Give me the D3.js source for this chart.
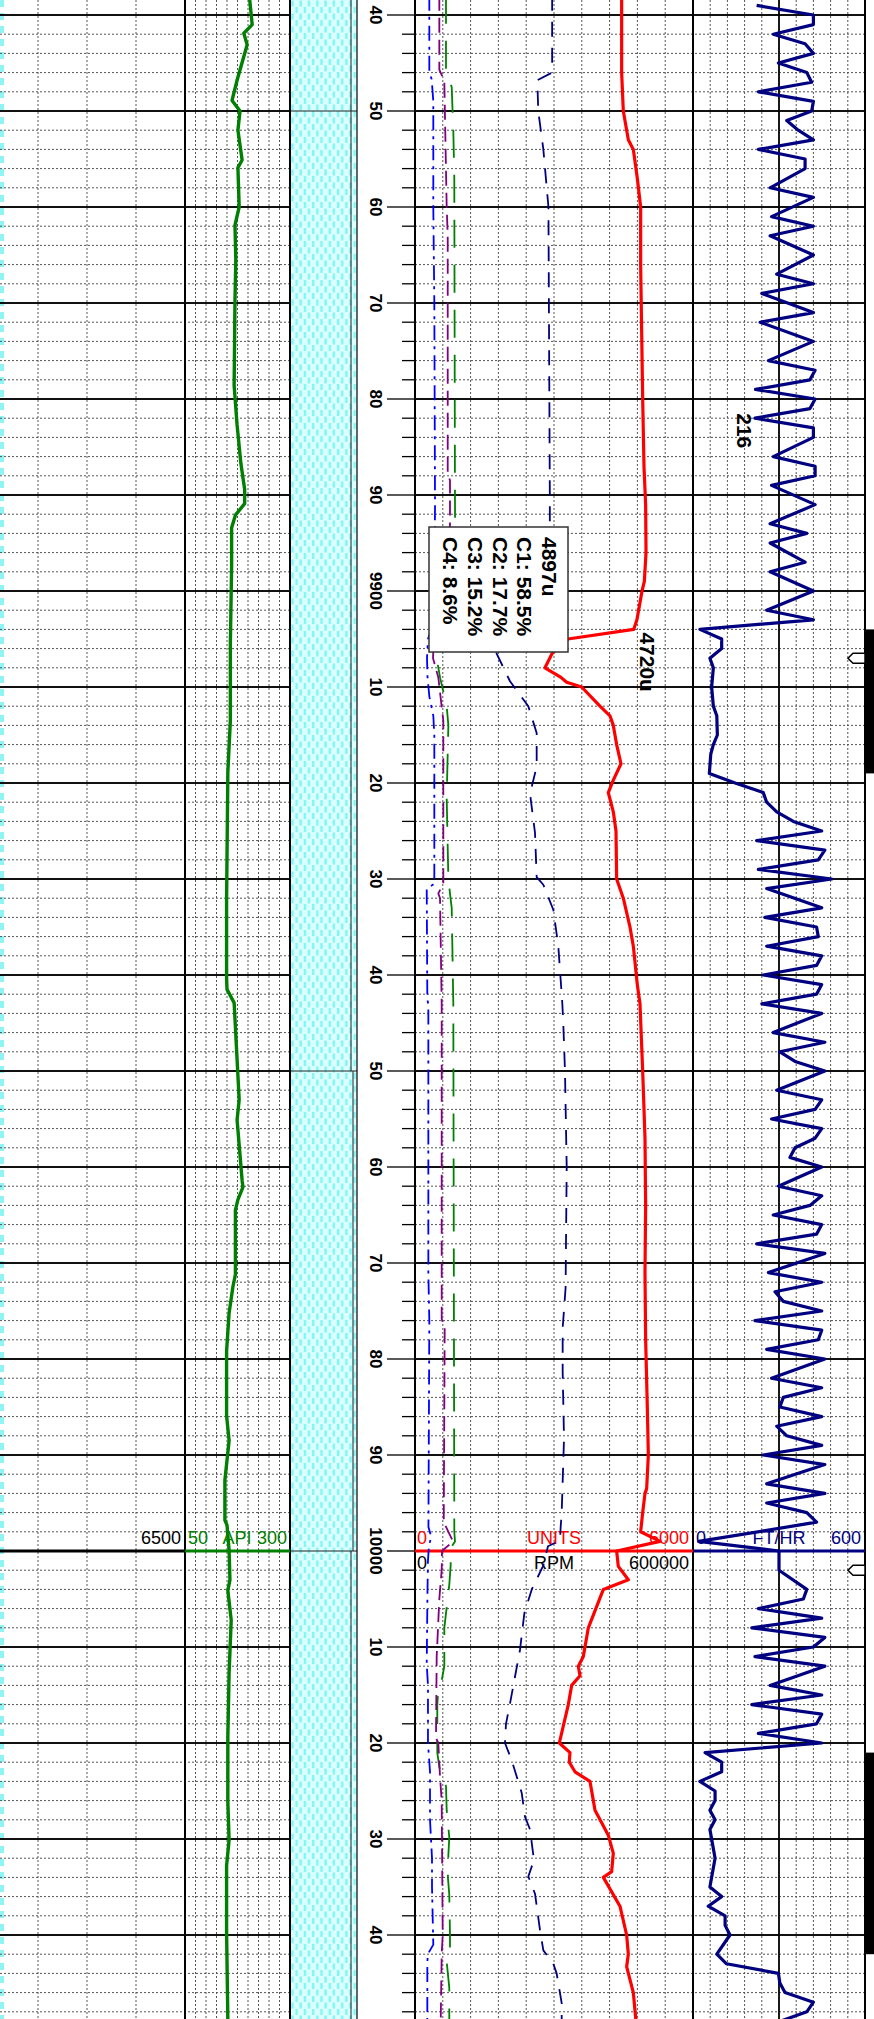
<!DOCTYPE html>
<html>
<head>
<meta charset="utf-8">
<script src="https://d3js.org/d3.v7.min.js"></script>
<style>
  html, body { margin: 0; padding: 0; background: #fff; }
  svg { display: block; }
  text { font-family: "Liberation Sans", Arial, sans-serif; }
</style>
</head>
<body>
<svg id="log" width="874" height="2019"></svg>
<script>
// ---------------- data ----------------
// Gamma ray (API)
const grDepth = [9838.4, 9841.0, 9841.9, 9843.1, 9846.8, 9848.9, 9850.0, 9852.0, 9855.1, 9855.9, 9860.0, 9861.9, 9865.5, 9869.7, 9878.6, 9882.7, 9886.7, 9889.4, 9890.9, 9892.1, 9893.4, 9897.4, 9905.5, 9913.5, 9918.9, 9932.3, 9940.3, 9941.5, 9942.9, 9953.0, 9955.1, 9961.4, 9962.1, 9963.4, 9964.5, 9971.2, 9972.5, 9975.2, 9979.2, 9985.9, 9988.5, 9992.6, 9996.8, 9997.3, 9999.9, 10003.0, 10004.1, 10007.2, 10012.7, 10019.4, 10026.1, 10030.1, 10032.8, 10039.6, 10048.8];
const grApi   = [204, 210, 190, 198, 174, 162, 181, 176, 186, 176, 179, 169, 171, 169, 167, 174, 183, 192, 192, 170, 161, 161, 158, 158, 152, 149, 149, 150, 167, 179, 174, 186, 188, 176, 170, 170, 164, 155, 149, 149, 155, 145, 145, 150, 155, 157, 152, 160, 155, 152, 152, 155, 149, 149, 152];

// Total gas (units)
const gasDepth = [9838, 9846, 9850, 9853, 9854, 9857, 9860, 9866, 9873, 9880, 9887, 9891, 9896, 9899, 9900, 9903, 9904, 9905, 9906.5, 9908, 9909, 9909.5, 9910, 9912, 9913, 9914, 9916, 9918, 9919.7, 9921, 9923, 9925, 9930, 9932, 9935, 9937, 9941, 9943, 9950, 9957, 9964, 9971, 9978, 9985, 9990, 9993.5, 9994, 9996, 9998, 9999, 10000, 10001.6, 10003, 10004, 10008, 10011, 10012, 10013, 10014, 10016, 10020, 10021, 10022, 10023, 10024, 10027, 10029.6, 10031.5, 10033.4, 10034, 10037, 10040, 10042, 10043.3, 10046, 10049];
const gasUnits = [4460, 4460, 4496, 4604, 4712, 4798, 4870, 4870, 4892, 4914, 4942, 4978, 4986, 4950, 4900, 4790, 4720, 3300, 2960, 2805, 3150, 3273, 3597, 3992, 4208, 4280, 4352, 4446, 4280, 4172, 4280, 4338, 4352, 4496, 4640, 4712, 4798, 4856, 4914, 4964, 4978, 4964, 4978, 5014, 5036, 5000, 4964, 4914, 4870, 5288, 4352, 4388, 4604, 4065, 3741, 3633, 3525, 3561, 3381, 3309, 3115, 3345, 3330, 3453, 3777, 3885, 4172, 4280, 4244, 4065, 4424, 4568, 4604, 4568, 4712, 4770];

// Chromatograph C1..C4
const c1Depth = [9838, 9846, 9846.8, 9850, 9854, 9860, 9890, 9903, 9905, 9906.5, 9909.4, 9912, 9914.8, 9918.3, 9921.1, 9925.2, 9929.8, 9930.6, 9933.2, 9937, 9943, 9945, 9950, 9960, 9972.6, 9976.8, 9981.3, 9988.3, 9996, 9997.5, 9998.9, 9999.5, 10001.5, 10004, 10006.5, 10010.3, 10013.1, 10015.9, 10018, 10020, 10021.8, 10025.2, 10027.7, 10029, 10032.2, 10033.9, 10035.7, 10039.5, 10041.6, 10043, 10044, 10047.1, 10049];
const c1Val   = [296000, 296000, 264000, 266000, 277000, 288000, 291000, 291000, 180000, 176000, 205000, 244600, 262600, 262600, 248200, 259000, 262600, 277000, 298500, 309300, 318000, 320000, 323700, 327400, 325000, 318700, 318700, 321600, 316600, 314400, 313000, 287000, 277000, 252000, 236000, 226600, 215800, 205000, 196400, 194200, 208700, 230300, 237400, 248200, 256800, 244600, 259000, 269800, 277000, 298500, 305700, 316600, 316600];

const c2Depth = [9838, 9846, 9846.7, 9849, 9860, 9870, 9891, 9903, 9905, 9907, 9909, 9911, 9913, 9915, 9930.5, 9931, 9942.6, 9943, 9971, 9976, 9997.5, 9998.5, 9999.5, 10001, 10004, 10011.8, 10014, 10020, 10023, 10028, 10032, 10035, 10041, 10042, 10043, 10049];
const c2Val   = [30900, 30900, 36000, 39500, 39500, 41700, 43200, 41700, 28000, 25900, 27000, 31000, 39500, 41700, 41700, 25300, 26600, 28800, 28800, 30900, 29000, 35000, 30000, 28000, 27000, 25300, 28000, 28000, 32400, 32400, 36700, 36700, 39500, 27600, 26600, 26600];

const c3Depth = [9838, 9845.7, 9846.5, 9847, 9860, 9863, 9887.7, 9888.5, 9891, 9903, 9905.5, 9907, 9909, 9913.5, 9930.5, 9931.5, 9932, 9943, 9975.8, 9976.8, 9997, 9999, 10000, 10002, 10005, 10011, 10019.5, 10020, 10023.5, 10026, 10040, 10042, 10049];
const c3Val   = [52500, 52500, 60000, 63300, 68400, 70600, 70600, 75500, 75500, 75500, 40000, 38900, 50300, 61100, 61100, 50300, 54000, 57600, 57600, 64100, 62000, 82000, 58300, 57600, 52500, 46800, 45300, 50300, 54000, 57600, 59800, 57600, 55500];

const c4Depth = [9838, 9846, 9847.5, 9852, 9857, 9891, 9903, 9906.5, 9907, 9909, 9912, 9914, 9921.5, 9930, 9931.5, 9933, 9943, 9996, 9998, 9999, 9999.7, 10001.5, 10003.5, 10006.5, 10008, 10012, 10013.5, 10014.5, 10016, 10021, 10022.5, 10024.5, 10027, 10029.8, 10031.7, 10034, 10035.8, 10040, 10042.2, 10042.8, 10045.5, 10049];
const c4Val   = [66900, 66900, 79200, 82700, 84800, 86300, 87800, 48100, 46800, 54000, 68400, 72000, 68400, 72000, 75500, 79200, 82700, 84800, 84800, 86300, 77000, 77000, 74000, 66900, 63300, 63300, 57600, 50300, 48100, 48100, 52500, 66900, 68400, 74000, 72000, 71000, 74000, 75500, 75500, 68400, 74000, 74000];

// Rate of penetration (ft/hr)
const ropDepth = [9839, 9840, 9841, 9842, 9843, 9844, 9845, 9846, 9847, 9848, 9849, 9850, 9851, 9852, 9853, 9854, 9855, 9856, 9858, 9859, 9861, 9862, 9863, 9865, 9867, 9868, 9869, 9871, 9872, 9874, 9876, 9877, 9878, 9879, 9880, 9881, 9882, 9883, 9884, 9886, 9887, 9888, 9889, 9891, 9893, 9894, 9895, 9897, 9898, 9900, 9902, 9903, 9904, 9905, 9906, 9907, 9908, 9910, 9912, 9913, 9915, 9916, 9917, 9919, 9920, 9921, 9922, 9923, 9924, 9925, 9926, 9927, 9928, 9929, 9930, 9931, 9933, 9934, 9935, 9936, 9937, 9938, 9939, 9940, 9941, 9942, 9943, 9944, 9946, 9947, 9948, 9949, 9950, 9952, 9953, 9954, 9955, 9956, 9957, 9958, 9959, 9960, 9962, 9963, 9964, 9965, 9966, 9967, 9968, 9969, 9971, 9972, 9973, 9974, 9975, 9976, 9977, 9978, 9979, 9980, 9982, 9983, 9984, 9985, 9986, 9987, 9988, 9989, 9990, 9991, 9993, 9994, 9995, 9996, 9997, 9999, 10000, 10002, 10004, 10005, 10006, 10007, 10008, 10009, 10010, 10011, 10012, 10014, 10015, 10016, 10017, 10018, 10019, 10020, 10021, 10022, 10023, 10024, 10025, 10026, 10027, 10028, 10029, 10032, 10035, 10036, 10037, 10038, 10039, 10040, 10042, 10043, 10044, 10045, 10046, 10047, 10048, 10049];
const ropRate  = [222, 420, 420, 280, 391, 420, 298, 397, 414, 228, 420, 414, 327, 367, 420, 228, 391, 391, 269, 420, 274, 420, 269, 420, 292, 420, 240, 420, 234, 420, 263, 426, 408, 218, 426, 408, 216, 420, 420, 280, 426, 426, 274, 426, 269, 397, 269, 391, 269, 420, 257, 420, 24, 100, 100, 59, 71, 65, 71, 83, 85, 71, 62, 57, 147, 245, 257, 292, 350, 449, 222, 460, 437, 228, 484, 257, 449, 251, 431, 437, 257, 449, 431, 245, 449, 431, 240, 449, 280, 460, 303, 356, 460, 292, 449, 426, 274, 449, 426, 356, 338, 449, 298, 449, 408, 280, 449, 431, 222, 460, 263, 449, 286, 315, 449, 216, 449, 437, 257, 460, 274, 449, 315, 303, 449, 292, 327, 449, 245, 460, 257, 460, 257, 397, 431, 20, 300, 300, 397, 385, 228, 449, 205, 460, 420, 216, 460, 269, 449, 205, 449, 431, 228, 449, 42, 100, 100, 24, 77, 77, 59, 77, 59, 77, 59, 100, 53, 112, 112, 129, 83, 117, 298, 303, 321, 420, 397, 303];

// Lithology intervals (top, base, inner edge in grain-size units)
const lithTop  = [9830, 9850, 9950, 10000];
const lithBase = [9850, 9950, 10000, 10060];
const lithEdge = [0, 0, 1, 0];

// Cored intervals and sample flags along the right edge
const coreTop  = [9904, 10021];
const coreBase = [9919, 10042];
const flagDepth = [9907, 10002];

// Gas show annotation
const showLines = ["4897u", "C1: 58.5%", "C2: 17.7%", "C3: 15.2%", "C4: 8.6%"];
const peakGasDepth = 9904;   // labelled total gas peak
const ropLabelDepth = 9882;  // labelled ROP value

// Scale header
const headerDepth = 10000;
const leftTrackMax = 6500;
const grRange = [50, 300];
const gasRange = [0, 6000];
const chromRange = [0, 600000];
const ropRange = [0, 600];

// ---------------- layout ----------------
const W = 874, H = 2019;
const svg = d3.select("#log");
const y = d3.scaleLinear().domain([9840, 10040]).range([15, 1935]);
const xLeft = d3.scaleLinear().domain([0, leftTrackMax]).range([-11, 185]);
const xGR = d3.scaleLinear().domain(grRange).range([185, 290]);
const xLith = d3.scaleLinear().domain([0, 1]).range([351, 353]);
const xGas = d3.scaleLinear().domain(gasRange).range([415, 693]);
const xChrom = d3.scaleLinear().domain(chromRange).range([415, 693]);
const xROP = d3.scaleLinear().domain(ropRange).range([693, 865]);

const C = { red: "#ff0000", green: "#008000", navy: "#000080", blue: "#0000ff", purple: "#800080" };

// ---------------- lithology pattern ----------------
const defs = svg.append("defs");
const pat = defs.append("pattern").attr("id", "silt")
  .attr("patternUnits", "userSpaceOnUse").attr("width", 8.3).attr("height", 13)
  .attr("x", 290);
pat.append("rect").attr("width", 8.3).attr("height", 13).attr("fill", "#dcffff");
pat.append("rect").attr("x", 1.2).attr("y", 0.5).attr("width", 2.4).attr("height", 6).attr("fill", "#7ef6f6");
pat.append("rect").attr("x", 5.4).attr("y", 7).attr("width", 2.4).attr("height", 6).attr("fill", "#7ef6f6");

const lith = svg.append("g");
d3.range(lithTop.length).forEach(i => {
  const y0 = Math.max(0, y(lithTop[i])), y1 = Math.min(H, y(lithBase[i]));
  lith.append("rect").attr("x", 290).attr("y", y0).attr("width", 67).attr("height", y1 - y0).attr("fill", "url(#silt)");
  lith.append("line").attr("x1", xLith(lithEdge[i])).attr("x2", xLith(lithEdge[i]))
    .attr("y1", y0).attr("y2", y1).attr("stroke", "#222").attr("stroke-width", 1);
  if (lithTop[i] > y.invert(0))
    lith.append("line").attr("x1", 290).attr("x2", 357).attr("y1", y(lithTop[i])).attr("y2", y(lithTop[i]))
      .attr("stroke", "#222").attr("stroke-width", 1.2);
});

// cyan edge of the neighbouring column at the far left
svg.append("line").attr("x1", 2).attr("x2", 2).attr("y1", 0).attr("y2", H)
  .attr("stroke", "#8ff4f4").attr("stroke-width", 4).attr("stroke-dasharray", "7,6");

// ---------------- grid ----------------
const grid = svg.append("g");
const spans = [[0, 290], [415, 865]];
const minorDepths = d3.range(9838, 10050, 2).filter(d => d % 10 !== 0);
const majorDepths = d3.range(9840, 10050, 10);

const vMinor = [
  ...d3.range(1, 4).map(i => xLeft(i * leftTrackMax / 4)),
  ...d3.range(1, 10).map(i => xGR(grRange[0] + i * 25)),
  ...d3.range(1, 10).map(i => xGas(i * 600)),
  ...d3.range(1, 10).filter(i => i !== 5).map(i => xROP(i * 60))
];
grid.selectAll(".vmin").data(vMinor).join("line")
  .attr("x1", d => d).attr("x2", d => d).attr("y1", 0).attr("y2", H)
  .attr("stroke", "#555").attr("stroke-width", 1).attr("stroke-dasharray", "2,2");

spans.forEach(([a, b]) => {
  grid.selectAll(null).data(minorDepths).join("line")
    .attr("x1", a).attr("x2", b).attr("y1", d => y(d)).attr("y2", d => y(d))
    .attr("stroke", "#555").attr("stroke-width", 1).attr("stroke-dasharray", "2,2");
  grid.selectAll(null).data(majorDepths.filter(d => d !== headerDepth)).join("line")
    .attr("x1", a).attr("x2", b).attr("y1", d => y(d)).attr("y2", d => y(d))
    .attr("stroke", "#111").attr("stroke-width", 2);
});

// track borders
const borders = [[185, 2], [290, 2], [357, 1.2], [415, 2], [693, 2], [xROP(300), 1.8], [865, 2]];
grid.selectAll(".border").data(borders).join("line")
  .attr("x1", d => d[0]).attr("x2", d => d[0]).attr("y1", 0).attr("y2", H)
  .attr("stroke", "#000").attr("stroke-width", d => d[1]);

// ---------------- depth track ----------------
const depthG = svg.append("g");
depthG.selectAll(".tmin").data(minorDepths).join("line")
  .attr("x1", 402).attr("x2", 415).attr("y1", d => y(d)).attr("y2", d => y(d))
  .attr("stroke", "#000").attr("stroke-width", 1.3);
depthG.selectAll(".tmaj").data(majorDepths).join("line")
  .attr("x1", 387).attr("x2", 415).attr("y1", d => y(d)).attr("y2", d => y(d))
  .attr("stroke", "#000").attr("stroke-width", 1.3);
depthG.selectAll(".dl").data(majorDepths).join("text")
  .attr("transform", d => `translate(370,${y(d)}) rotate(90)`)
  .attr("text-anchor", "middle").attr("font-size", 17).attr("font-weight", "bold")
  .text(d => d % 100 === 0 ? String(d) : String(d % 100).padStart(2, "0"));

// ---------------- scale header ----------------
const hy = y(headerDepth);
const header = svg.append("g");
[[0, 185, "#000"], [185, 290, C.green], [415, 693, C.red], [693, 865, C.navy]].forEach(([a, b, c]) => {
  header.append("line").attr("x1", a).attr("x2", b).attr("y1", hy).attr("y2", hy)
    .attr("stroke", c).attr("stroke-width", 3.2);
});
const hLabels = [
  [181, -7, "end", "#000", String(leftTrackMax)],
  [188, -7, "start", C.green, String(grRange[0])],
  [237, -7, "middle", C.green, "API"],
  [287, -7, "end", C.green, String(grRange[1])],
  [417, -7, "start", C.red, String(gasRange[0])],
  [554, -7, "middle", C.red, "UNITS"],
  [689, -7, "end", C.red, String(gasRange[1])],
  [696, -7, "start", C.navy, String(ropRange[0])],
  [779, -7, "middle", C.navy, "FT/HR"],
  [861, -7, "end", C.navy, String(ropRange[1])],
  [417, 18, "start", "#000", String(chromRange[0])],
  [554, 18, "middle", "#000", "RPM"],
  [689, 18, "end", "#000", String(chromRange[1])]
];
header.selectAll("text").data(hLabels).join("text")
  .attr("x", d => d[0]).attr("y", d => hy + d[1])
  .attr("text-anchor", d => d[2]).attr("fill", d => d[3])
  .attr("font-size", 18).text(d => d[4]);

// ---------------- curves ----------------
const curves = svg.append("g").attr("fill", "none").attr("stroke-linejoin", "round");
function drawCurve(depths, values, xs, color, width, dash) {
  const line = d3.line().x(d => xs(d[1])).y(d => y(d[0]));
  curves.append("path").datum(d3.zip(depths, values)).attr("d", line)
    .attr("stroke", color).attr("stroke-width", width)
    .attr("stroke-dasharray", dash || null);
}
drawCurve(grDepth, grApi, xGR, C.green, 3.4);
drawCurve(c4Depth, c4Val, xChrom, C.green, 1.8, "28,17");
drawCurve(c3Depth, c3Val, xChrom, C.purple, 1.8, "15,7");
drawCurve(c2Depth, c2Val, xChrom, C.blue, 1.8, "15,6,3,6");
drawCurve(c1Depth, c1Val, xChrom, C.navy, 1.8, "15,11");
drawCurve(gasDepth, gasUnits, xGas, C.red, 3.2);
drawCurve(ropDepth, ropRate, xROP, C.navy, 3.2);

// ---------------- annotations ----------------
const ann = svg.append("g");
ann.append("rect").attr("x", 429).attr("y", 527).attr("width", 139).attr("height", 125)
  .attr("fill", "#fff").attr("stroke", "#333").attr("stroke-width", 1.5);
ann.selectAll(".show").data(showLines).join("text")
  .attr("transform", (d, i) => `translate(${542 - i * 24.75},537) rotate(90)`)
  .attr("font-size", 21).attr("font-weight", "bold").text(d => d);

const peakIdx = gasDepth.indexOf(peakGasDepth);
ann.append("text")
  .attr("transform", `translate(${xGas(gasUnits[peakIdx]) + 6},${y(peakGasDepth) + 3}) rotate(90)`)
  .attr("font-size", 21).attr("font-weight", "bold").text(gasUnits[peakIdx] + "u");

const ropIdx = ropDepth.indexOf(ropLabelDepth);
ann.append("text")
  .attr("transform", `translate(${xROP(ropRate[ropIdx]) - 18},${y(ropLabelDepth) - 5}) rotate(90)`)
  .attr("font-size", 21).attr("font-weight", "bold").text(ropRate[ropIdx]);

// ---------------- right edge: cores and flags ----------------
const edge = svg.append("g");
edge.selectAll(".core").data(d3.zip(coreTop, coreBase)).join("rect")
  .attr("x", 866).attr("width", 8).attr("y", d => y(d[0])).attr("height", d => y(d[1]) - y(d[0]))
  .attr("fill", "#000");
edge.selectAll(".flag").data(flagDepth).join("path")
  .attr("d", d => { const c = y(d); return `M848,${c} L853,${c - 5} L865,${c - 5} L865,${c + 5} L853,${c + 5} Z`; })
  .attr("fill", "#fff").attr("stroke", "#000").attr("stroke-width", 1.5);
</script>
</body>
</html>
